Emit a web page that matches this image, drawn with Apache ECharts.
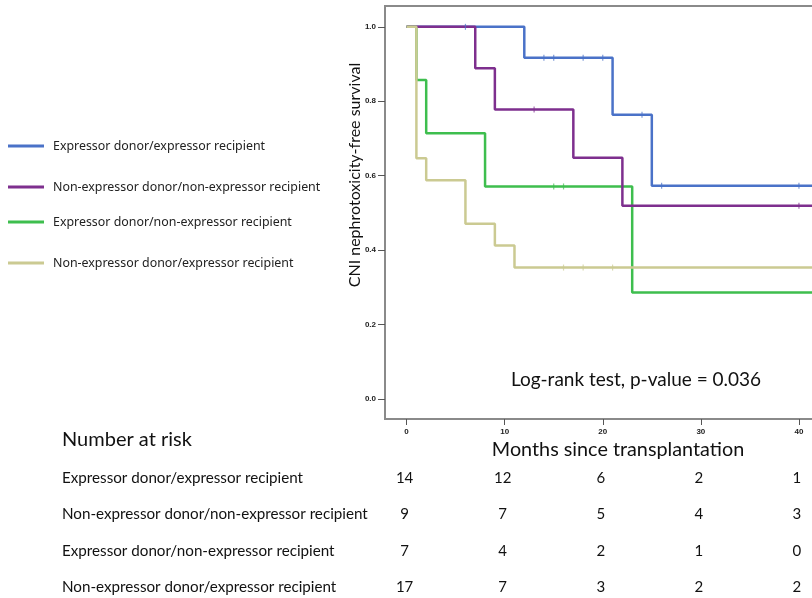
<!DOCTYPE html>
<html><head><meta charset="utf-8">
<script src="https://cdn.jsdelivr.net/npm/echarts@6/dist/echarts.min.js"></script>
<style>html,body{margin:0;padding:0;background:#fff}#c{width:812px;height:598px}</style>
</head><body><div id="c"></div>
<script>
// ---- data ----
var groupNames = ['Expressor donor/expressor recipient','Non-expressor donor/non-expressor recipient','Expressor donor/non-expressor recipient','Non-expressor donor/expressor recipient'];
var blueTimes = [0, 12, 21, 25, 45];
var blueSurv = [1, 0.917, 0.764, 0.573, 0.573];
var purpleTimes = [0, 7, 9, 17, 22, 45];
var purpleSurv = [1, 0.889, 0.778, 0.648, 0.519, 0.519];
var greenTimes = [0, 1, 2, 8, 23, 45];
var greenSurv = [1, 0.857, 0.714, 0.571, 0.286, 0.286];
var khakiTimes = [0, 1, 2, 6, 9, 11, 45];
var khakiSurv = [1, 0.647, 0.588, 0.471, 0.412, 0.353, 0.353];
var blueCensor = [6, 14, 15, 18, 20, 24, 26, 40];
var purpleCensor = [13, 40];
var greenCensor = [15, 16];
var khakiCensor = [16, 18, 21];
var xTicks = [0, 10, 20, 30, 40];
var yTicks = [0, 0.2, 0.4, 0.6, 0.8, 1.0];
var riskTimes = [0, 10, 20, 30, 40];
var riskBlue = [14, 12, 6, 2, 1];
var riskPurple = [9, 7, 5, 4, 3];
var riskGreen = [7, 4, 2, 1, 0];
var riskKhaki = [17, 7, 3, 2, 2];

var colors = ['#4A72C8', '#7E2F8E', '#3EBE4E', '#CBCA92'];
var stepT = [blueTimes, purpleTimes, greenTimes, khakiTimes];
var stepS = [blueSurv, purpleSurv, greenSurv, khakiSurv];
var censors = [blueCensor, purpleCensor, greenCensor, khakiCensor];
var risks = [riskBlue, riskPurple, riskGreen, riskKhaki];

function survAt(g, t) {
  var T = stepT[g], S = stepS[g], v = S[0];
  for (var i = 0; i < T.length; i++) { if (T[i] <= t) v = S[i]; }
  return v;
}

var chart = echarts.init(document.getElementById('c'), null, {renderer: 'canvas'});
var series = [];
var order = [0, 2, 1, 3];
order.forEach(function (g) {
  series.push({
    name: groupNames[g], type: 'line', step: 'end', symbol: 'none',
    data: stepT[g].map(function (t, i) { return [t, stepS[g][i]]; }),
    lineStyle: {color: colors[g], width: 2.5}, itemStyle: {color: colors[g]},
    animation: false, z: 2
  });
});
order.forEach(function (g) {
  series.push({
    name: groupNames[g] + ' censored', type: 'scatter', symbol: 'rect', symbolSize: [1.2, 6],
    data: censors[g].map(function (t) { return [t, survAt(g, t)]; }),
    itemStyle: {color: colors[g], opacity: 0.7}, animation: false, z: 3, silent: true
  });
});

var legendTops = [135, 176, 211, 252];
var legends = groupNames.map(function (n, g) {
  return {
    data: [n], left: 3, top: legendTops[g], orient: 'vertical',
    icon: 'rect', itemWidth: 36, itemHeight: 3,
    textStyle: {fontFamily: 'Noto Sans', fontSize: 12.4, color: '#222', padding: [0, 0, 0, 4]},
    selectedMode: false
  };
});

chart.setOption({
  animation: false,
  backgroundColor: '#fff',
  grid: {left: 385, top: 6, width: 463, height: 413, outerBoundsMode: 'none', containLabel: false,
         show: true, borderColor: '#8a8a8a', borderWidth: 2},
  legend: legends,
  xAxis: {
    type: 'value', min: -2.2, max: 45,
    axisLine: {show: true, onZero: false, lineStyle: {color: '#8a8a8a', width: 2}},
    axisTick: {show: true, inside: false, length: 6, customValues: xTicks, lineStyle: {color: '#555', width: 1}},
    axisLabel: {customValues: xTicks, margin: 9, fontFamily: 'Liberation Sans', fontWeight: 'bold', fontSize: 8, color: '#222'},
    splitLine: {show: false}
  },
  yAxis: {
    type: 'value', min: -0.054, max: 1.056,
    axisLine: {show: true, onZero: false, lineStyle: {color: '#8a8a8a', width: 2}},
    axisTick: {show: true, length: 7, customValues: yTicks, lineStyle: {color: '#555', width: 1}},
    axisLabel: {customValues: yTicks, margin: 9, fontFamily: 'Liberation Sans', fontWeight: 'bold', fontSize: 8, color: '#222',
      formatter: function (v) { return v.toFixed(1); }},
    splitLine: {show: false}
  },
  series: series
});

var graphics = [
  {type: 'text', x: 355, y: 175, rotation: Math.PI / 2,
   style: {text: 'CNI nephrotoxicity-free survival', fontFamily: 'Lato', fontSize: 16, fill: '#111', align: 'center', verticalAlign: 'middle'}},
  {type: 'text', x: 636, y: 380,
   style: {text: 'Log-rank test, p-value = 0.036', fontFamily: 'Lato', fontSize: 19, fill: '#111', align: 'center', verticalAlign: 'middle'}},
  {type: 'text', x: 618, y: 450,
   style: {text: 'Months since transplantation', fontFamily: 'Lato', fontSize: 19.8, fill: '#111', align: 'center', verticalAlign: 'middle'}},
  {type: 'text', x: 62, y: 440,
   style: {text: 'Number at risk', fontFamily: 'Lato', fontSize: 20, fill: '#111', align: 'left', verticalAlign: 'middle'}}
];
var rowY = [478, 514, 551, 587];
groupNames.forEach(function (n, g) {
  graphics.push({type: 'text', x: 62, y: rowY[g],
    style: {text: n, fontFamily: 'Lato', fontSize: 15.2, fill: '#111', align: 'left', verticalAlign: 'middle'}});
  risks[g].forEach(function (v, i) {
    var px = chart.convertToPixel({xAxisIndex: 0}, riskTimes[i]);
    graphics.push({type: 'text', x: px - 2, y: rowY[g],
      style: {text: String(v), fontFamily: 'Lato', fontSize: 15, fill: '#111', align: 'center', verticalAlign: 'middle'}});
  });
});
chart.setOption({graphic: graphics});
</script></body></html>
